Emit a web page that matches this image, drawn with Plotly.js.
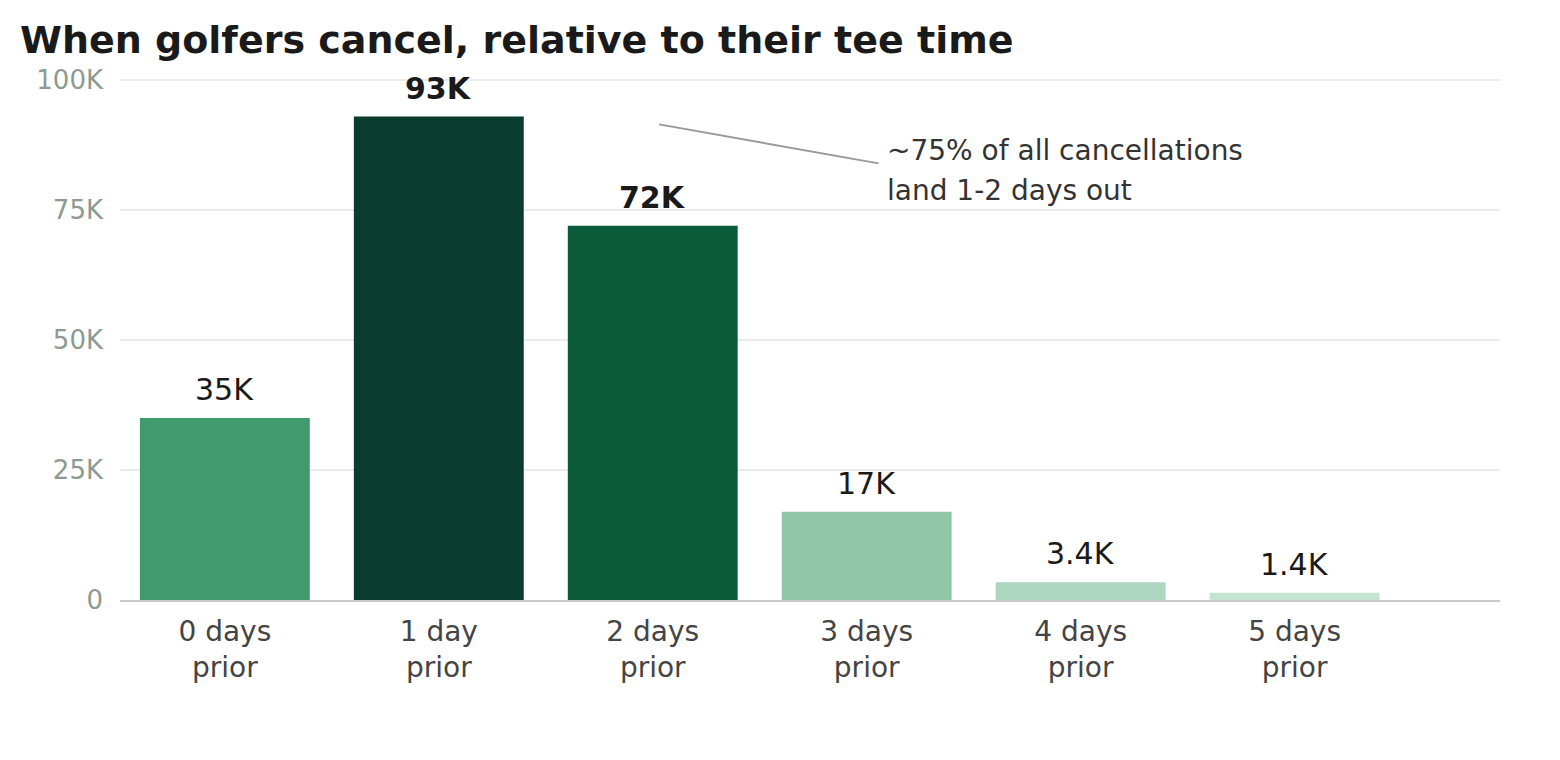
<!DOCTYPE html>
<html>
<head>
<meta charset="utf-8">
<script src="https://cdn.plot.ly/plotly-3.0.1.min.js"></script>
<style>html,body{margin:0;padding:0;background:#fff;}#chart{width:1560px;height:760px;}</style>
</head>
<body>
<div id="chart"></div>
<script>
const categories = ['0 days<br>prior','1 day<br>prior','2 days<br>prior','3 days<br>prior','4 days<br>prior','5 days<br>prior'];
const values = [35000, 93000, 72000, 17000, 3400, 1400];
const valueLabels = ['35K','<b>93K</b>','<b>72K</b>','17K','3.4K','1.4K'];
const barColors = ['#3f9b6e','#0b3d2e','#0b5c3b','#8fc6a8','#acd6bf','#c3e4d1'];
const yTickVals = [0, 25000, 50000, 75000, 100000];
const yTickText = ['0','25K','50K','75K','100K'];
const noteLines = ['~75% of all cancellations', 'land 1-2 days out'];

const FONT = 'DejaVu Sans, sans-serif';

const trace = {
  type: 'bar',
  x: categories,
  y: values,
  marker: {color: barColors, line: {width: 0}},
  hoverinfo: 'skip',
  showlegend: false
};

const annotations = categories.map((c, i) => ({
  x: c, y: values[i], xref: 'x', yref: 'y',
  text: valueLabels[i], showarrow: false,
  yanchor: 'bottom', yshift: 9,
  font: {family: FONT, size: 30, color: '#1a1a1a'}
}));
noteLines.forEach((t, i) => annotations.push({
  x: 3.085, y: 86540 - i * 7690, xref: 'x', yref: 'y',
  text: t, showarrow: false, align: 'left',
  xanchor: 'left', yanchor: 'middle',
  font: {family: FONT, size: 28, color: '#333333'}
}));

const layout = {
  width: 1560, height: 760,
  margin: {l: 120, r: 60, t: 75, b: 160},
  paper_bgcolor: '#ffffff', plot_bgcolor: '#ffffff',
  bargap: 0.206,
  title: {
    text: '<b>When golfers cancel, relative to their tee time</b>',
    x: 20/1560, xref: 'container', xanchor: 'left',
    y: 1 - 40/760, yref: 'container', yanchor: 'middle',
    font: {family: FONT, size: 38, color: '#1a1a1a'}
  },
  xaxis: {
    type: 'category',
    range: [-0.49, 5.96],
    showgrid: false,
    showline: true, linecolor: '#c8c8c8', linewidth: 2,
    ticks: '', ticklabelstandoff: 5,
    tickfont: {family: FONT, size: 28, color: '#444444'},
    fixedrange: true
  },
  yaxis: {
    range: [0, 101000],
    tickvals: yTickVals, ticktext: yTickText,
    showgrid: true, gridcolor: '#ebebeb', gridwidth: 2,
    zeroline: false, showline: false,
    ticks: '', ticklabelstandoff: 16,
    tickfont: {family: FONT, size: 26, color: '#8c9a90'},
    fixedrange: true
  },
  shapes: [{
    type: 'line', xref: 'x', yref: 'y',
    x0: 2.03, y0: 91500, x1: 3.055, y1: 84000,
    line: {color: '#999999', width: 2}
  }],
  annotations: annotations
};

Plotly.newPlot('chart', [trace], layout, {displayModeBar: false, staticPlot: true});
</script>
</body>
</html>
